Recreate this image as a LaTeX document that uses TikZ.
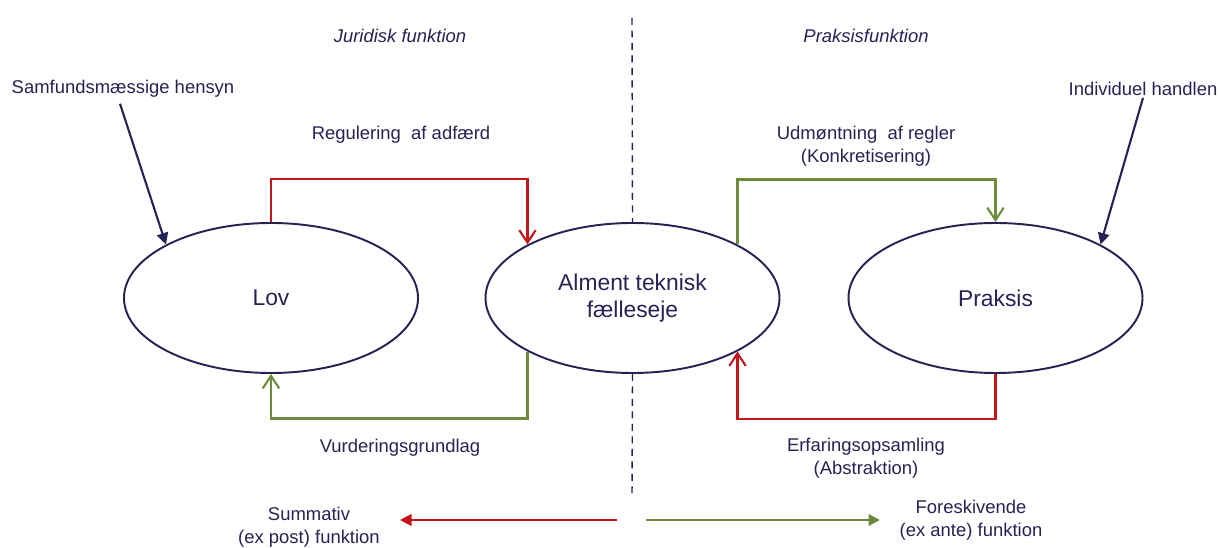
\documentclass[tikz,border=0pt]{standalone}
\usepackage{fontspec}
\setmainfont{Liberation Sans}
\usetikzlibrary{shapes.geometric,arrows.meta}

\definecolor{navy}{RGB}{38,35,84}
\definecolor{darkred}{RGB}{192,22,28}
\definecolor{olive}{RGB}{110,139,61}

\tikzset{
	field/.style={ellipse, draw=navy, line width=1.1pt, minimum width=5.88cm, minimum height=3cm, inner sep=0pt, text=navy, font=\fontsize{13}{15.4}\selectfont, align=center},
	label/.style={text=navy, font=\fontsize{10.5}{13}\selectfont, align=center, inner sep=1pt},
	flow/.style={line width=1.2pt, -{Straight Barb[length=2.5mm,width=3.3mm]}},
	push/.style={line width=1.2pt, -{Triangle[length=2.3mm,width=2.3mm]}}
}

\begin{document}
\begin{tikzpicture}
		\useasboundingbox (0,0) rectangle (24.4,10.94);

		\node[field] (lov) at (5.42,4.98) {Lov};
		\node[field] (mid) at (12.65,4.98) {Alment teknisk\\fælleseje};
		\node[field] (praksis) at (19.91,4.98) {Praksis};

		\node[label, font=\fontsize{10.5}{13}\selectfont\itshape] (jur) at (8.0,10.22) {Juridisk funktion};
		\node[label, font=\fontsize{10.5}{13}\selectfont\itshape] (prak) at (17.32,10.22) {Praksisfunktion};
		\node[label] (samf) at (2.46,9.16) {Samfundsmæssige hensyn};
		\node[label] (indiv) at (22.86,9.16) {Individuel handlen};
		\node[label] (reg) at (8.02,8.24) {Regulering\ \ af adfærd};
		\node[label] (udm) at (17.32,8.02) {Udmøntning\ \ af regler\\(Konkretisering)};
		\node[label] (vurd) at (8.0,1.98) {Vurderingsgrundlag};
		\node[label] (erf) at (17.32,1.78) {Erfaringsopsamling\\(Abstraktion)};
		\node[label] (summ) at (6.18,0.39) {Summativ\\(ex post) funktion};
		\node[label] (fores) at (19.42,0.53) {Foreskivende\\(ex ante) funktion};

		% Divider.
		\coordinate (dtop) at (12.64,10.58);
		\coordinate (dbot) at (12.64,1.0);
		\draw[navy, line width=0.8pt, dash pattern=on 0.14cm off 0.11cm] (dtop) -- (mid.north);
		\draw[navy, line width=0.8pt, dash pattern=on 0.14cm off 0.11cm] (mid.south) -- (dbot);

		% Loops between the fields.
		\draw[flow, darkred] (lov.north) -- ++(0,0.86) -| (mid.153);
		\draw[flow, olive] (mid.207) -- ++(0,-1.34) -| (lov.south);
		\draw[flow, olive] (mid.27) -- ++(0,1.3) -| (praksis.north);
		\draw[flow, darkred] (praksis.south) -- ++(0,-0.9) -| (mid.333);

		% Inputs.
		\draw[push, navy] (samf.south) ++(-0.06,-0.08) coordinate (samfend) (samfend) -- (lov.153);
		\draw[push, navy] (indiv.south) -- (praksis.27);

		% Directions.
		\coordinate (lstart) at (12.34,0.54);
		\coordinate (lend) at (8.0,0.54);
		\coordinate (rstart) at (12.92,0.54);
		\coordinate (rend) at (17.6,0.54);
		\draw[push, darkred] (lstart) -- (lend);
		\draw[push, olive] (rstart) -- (rend);
	\end{tikzpicture}
\end{document}
